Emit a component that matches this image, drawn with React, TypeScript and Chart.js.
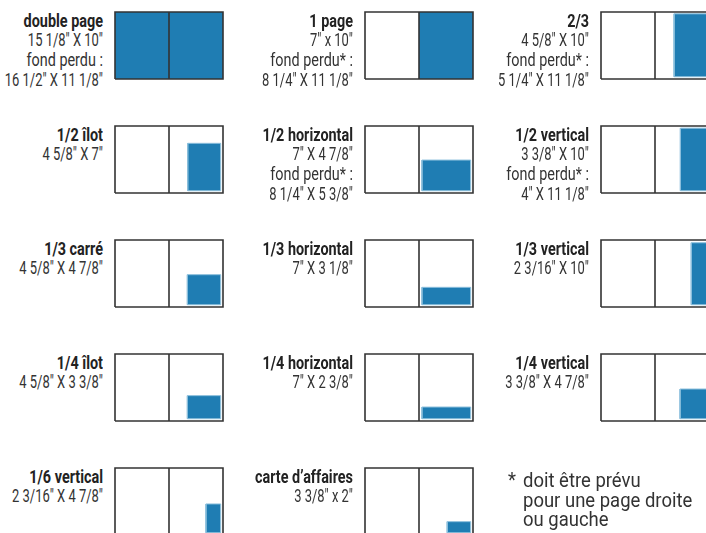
import React, { useEffect, useRef } from "react";
import { Chart, registerables } from "chart.js";

Chart.register(...registerables);

// ---- data ----
const titles = [
  "double page", "1 page", "2/3",
  "1/2 îlot", "1/2 horizontal", "1/2 vertical",
  "1/3 carré", "1/3 horizontal", "1/3 vertical",
  "1/4 îlot", "1/4 horizontal", "1/4 vertical",
  "1/6 vertical", "carte d’affaires",
];
const trimSizes = [
  "15 1/8\" X 10\"", "7\" x 10\"", "4 5/8\" X 10\"",
  "4 5/8\" X 7\"", "7\" X 4 7/8\"", "3 3/8\" X 10\"",
  "4 5/8\" X 4 7/8\"", "7\" X 3 1/8\"", "2 3/16\" X 10\"",
  "4 5/8\" X 3 3/8\"", "7\" X 2 3/8\"", "3 3/8\" X 4 7/8\"",
  "2 3/16\" X 4 7/8\"", "3 3/8\" x 2\"",
];
const bleedLabels = [
  "fond perdu :", "fond perdu* :", "fond perdu* :",
  "", "fond perdu* :", "fond perdu* :",
  "", "", "", "", "", "", "", "",
];
const bleedSizes = [
  "16 1/2\" X 11 1/8\"", "8 1/4\" X 11 1/8\"", "5 1/4\" X 11 1/8\"",
  "", "8 1/4\" X 5 3/8\"", "4\" X 11 1/8\"",
  "", "", "", "", "", "", "", "",
];
// ad size as drawn (inches on the spread scale)
const adWidths = [15.4, 7.7, 4.65, 4.7, 6.95, 3.75, 4.75, 6.95, 2.2, 4.75, 6.95, 3.8, 2.1, 3.35];
const adHeights = [10.6, 10.6, 9.95, 7.5, 4.85, 9.9, 4.75, 2.75, 9.8, 3.65, 1.85, 4.7, 4.55, 1.75];
const fullBleed = [true, true, false, false, false, false, false, false, false, false, false, false, false, false];
const footnote = ["doit être prévu", "pour une page droite", "ou gauche"];

const SPREAD_W = 15.4;
const PAGE_W = 7.7;
const SPREAD_H = 10.6;
const MARGIN_X = 0.33;
const MARGIN_Y = 0.36;

// ---- layout ----
const colLeft = [115, 365, 601];
const rowTop = [12, 126, 240, 354, 468];
const BOX_W = 108;
const BOX_H = 67;
const PAD = 3;

const BLUE = "#1f7db3";
const LINE = "#333333";

function PanelChart({ i }: { i: number }) {
  const ref = useRef<HTMLCanvasElement | null>(null);
  useEffect(() => {
    if (!ref.current) return;
    const w = adWidths[i];
    const h = adHeights[i];
    let x1: number, x0: number, y0: number, y1: number;
    if (fullBleed[i]) {
      x1 = SPREAD_W;
      x0 = SPREAD_W - w;
      y0 = 0;
      y1 = h;
    } else {
      x1 = SPREAD_W - MARGIN_X;
      x0 = x1 - w;
      y0 = MARGIN_Y;
      y1 = y0 + h;
    }
    const chart = new Chart(ref.current, {
      type: "scatter",
      data: {
        datasets: [
          {
            label: "outline",
            data: [
              { x: 0, y: 0 }, { x: SPREAD_W, y: 0 }, { x: SPREAD_W, y: SPREAD_H },
              { x: 0, y: SPREAD_H }, { x: 0, y: 0 },
            ],
            showLine: true,
            borderColor: LINE,
            borderWidth: 1.6,
            pointRadius: 0,
            fill: false,
            order: 0,
            clip: false,
          } as any,
          {
            label: "divider",
            data: [{ x: PAGE_W, y: 0 }, { x: PAGE_W, y: SPREAD_H }],
            showLine: true,
            borderColor: LINE,
            borderWidth: 1.6,
            pointRadius: 0,
            fill: false,
            order: 0,
            clip: false,
          } as any,
          {
            label: "adEdge",
            data: fullBleed[i]
              ? []
              : [
                  { x: x0, y: y0 }, { x: x1, y: y0 }, { x: x1, y: y1 },
                  { x: x0, y: y1 }, { x: x0, y: y0 },
                ],
            showLine: true,
            borderColor: "#8bbfdc",
            borderWidth: 1,
            pointRadius: 0,
            fill: false,
            order: 1,
            clip: false,
          } as any,
          {
            label: "ad",
            data: [{ x: x0, y: y1 }, { x: x1, y: y1 }],
            showLine: true,
            borderWidth: 0,
            borderColor: BLUE,
            backgroundColor: BLUE,
            pointRadius: 0,
            fill: { value: y0 },
            order: 2,
            clip: false,
          } as any,
        ],
      },
      options: {
        animation: false,
        responsive: false,
        events: [],
        layout: { padding: PAD },
        plugins: { legend: { display: false }, tooltip: { enabled: false } },
        scales: {
          x: { type: "linear", min: 0, max: SPREAD_W, display: false },
          y: { type: "linear", min: 0, max: SPREAD_H, display: false },
        },
      },
    });
    return () => chart.destroy();
  }, [i]);
  return <canvas ref={ref} width={BOX_W + 2 * PAD} height={BOX_H + 2 * PAD} />;
}

function TextLine({ text, bold, scale }: { text: string; bold?: boolean; scale: number }) {
  return (
    <div
      style={{
        fontWeight: bold ? 700 : 400,
        color: bold ? "#222" : "#333",
        transform: `scaleX(${scale})`,
        transformOrigin: "right top",
      }}
    >
      {text}
    </div>
  );
}

function Panel({ i }: { i: number }) {
  const col = i % 3;
  const row = Math.floor(i / 3);
  const L = colLeft[col];
  const T = rowTop[row];
  const textRight = L - 12.5;
  return (
    <>
      <div
        style={{
          position: "absolute",
          left: textRight - 240,
          top: T - 1.5,
          width: 240,
          textAlign: "right",
          fontFamily: "Roboto, 'Noto Sans', sans-serif",
          fontSize: 18,
          lineHeight: "19.7px",
          whiteSpace: "nowrap",
        }}
      >
        <TextLine text={titles[i]} bold scale={0.8} />
        <TextLine text={trimSizes[i]} scale={0.72} />
        {bleedLabels[i] && <TextLine text={bleedLabels[i]} scale={0.8} />}
        {bleedSizes[i] && <TextLine text={bleedSizes[i]} scale={0.72} />}
      </div>
      <div style={{ position: "absolute", left: L - PAD, top: T - PAD }}>
        <PanelChart i={i} />
      </div>
    </>
  );
}

export default function App() {
  return (
    <div
      style={{
        position: "absolute",
        left: 0,
        top: 0,
        width: 706,
        height: 533,
        overflow: "hidden",
        background: "#fff",
      }}
    >
      {titles.map((_, i) => (
        <Panel key={i} i={i} />
      ))}
      <div
        style={{
          position: "absolute",
          left: 523,
          top: 471,
          fontFamily: "Roboto, 'Noto Sans', sans-serif",
          fontSize: 21,
          lineHeight: "19.5px",
          color: "#333",
          whiteSpace: "nowrap",
          transform: "scaleX(0.88)",
          transformOrigin: "left top",
        }}
      >
        {footnote.map((s, k) => (
          <div key={k} style={{ position: "relative" }}>
            {k === 0 && <span style={{ position: "absolute", left: -17 }}>*</span>}
            {s}
          </div>
        ))}
      </div>
    </div>
  );
}
